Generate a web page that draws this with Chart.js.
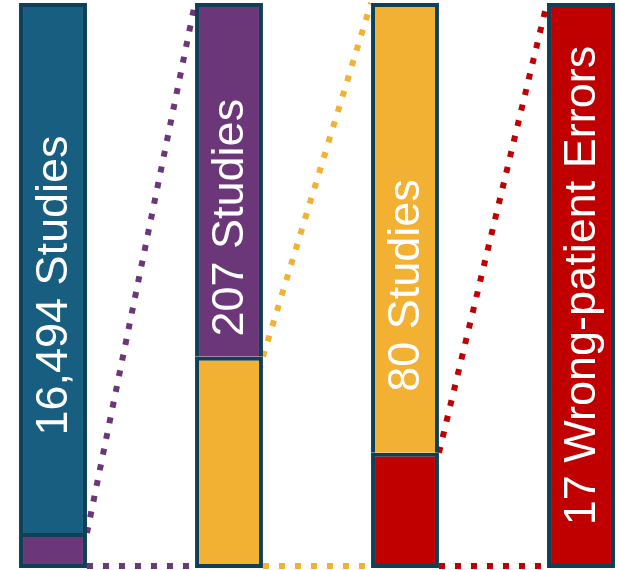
<!DOCTYPE html>
<html>
<head>
<meta charset="utf-8">
<script src="https://cdn.jsdelivr.net/npm/chart.js@4"></script>
<style>
  body { margin: 0; background: #fff; }
</style>
</head>
<body>
<canvas id="myChart" width="620" height="570"></canvas>
<script>
// each bar is 100%, split into the part kept (lower) and the rest (upper)
const categories = ['Searched', 'Screened', 'Included', 'Errors'];
const barLabels = ['16,494 Studies', '207 Studies', '80 Studies', '17 Wrong-patient Errors'];
const lowerShare = [6.2, 37.4, 20.4, 100];
const upperShare = [93.8, 62.6, 79.6, null];
const labelCentre = [50, 62, 50, 50];

const teal = '#175e80', purple = '#6b3779', yellow = '#f2b132', red = '#c00000';
const edge = '#0e4158';
const lowerColors = [purple, yellow, red, red];
const upperColors = [teal, purple, yellow, red];

const connectors = {
  id: 'connectors',
  beforeDatasetsDraw(chart) {
    const ctx = chart.ctx;
    const lower = chart.getDatasetMeta(0).data;
    const upper = chart.getDatasetMeta(1).data;
    ctx.save();
    ctx.lineWidth = 6;
    ctx.setLineDash([6, 10]);
    for (let i = 0; i < lower.length - 1; i++) {
      const a = lower[i];
      const b = lower[i + 1];
      const nextTop = upperShare[i + 1] != null ? upper[i + 1].y : b.y;
      const x1 = a.x + a.width / 2;
      const x2 = b.x - b.width / 2;
      ctx.strokeStyle = lowerColors[i];
      ctx.beginPath();
      ctx.moveTo(x1, a.y);
      ctx.lineTo(x2, nextTop);
      ctx.stroke();
      ctx.beginPath();
      ctx.moveTo(x1, a.base - 2);
      ctx.lineTo(x2, a.base - 2);
      ctx.stroke();
    }
    ctx.restore();
  }
};

const barText = {
  id: 'barText',
  afterDatasetsDraw(chart) {
    const ctx = chart.ctx;
    const lower = chart.getDatasetMeta(0).data;
    const y = chart.scales.y;
    ctx.save();
    ctx.fillStyle = '#ffffff';
    ctx.font = "45px 'Liberation Sans'";
    ctx.textAlign = 'center';
    ctx.textBaseline = 'middle';
    lower.forEach((bar, i) => {
      ctx.save();
      ctx.translate(bar.x + 2, y.getPixelForValue(labelCentre[i]));
      ctx.rotate(-Math.PI / 2);
      ctx.fillText(barLabels[i], 0, 0);
      ctx.restore();
    });
    ctx.restore();
  }
};

new Chart(document.getElementById('myChart'), {
  type: 'bar',
  data: {
    labels: categories,
    datasets: [{
      data: lowerShare,
      backgroundColor: lowerColors,
      borderColor: edge,
      borderWidth: { top: 4, left: 4, right: 4, bottom: 4 },
      borderSkipped: false,
      clip: false
    }, {
      data: upperShare,
      backgroundColor: upperColors,
      borderColor: edge,
      borderWidth: { top: 4, left: 4, right: 4, bottom: 0 },
      borderSkipped: false,
      clip: false
    }]
  },
  plugins: [connectors, barText],
  options: {
    responsive: false,
    animation: false,
    categoryPercentage: 1,
    barPercentage: 0.386,
    layout: { padding: { left: 53, right: 39, top: 3, bottom: 2 } },
    plugins: {
      legend: { display: false },
      tooltip: { enabled: false }
    },
    scales: {
      x: { display: false, stacked: true, offset: false },
      y: { display: false, stacked: true, min: 0, max: 100 }
    }
  }
});
</script>
</body>
</html>
